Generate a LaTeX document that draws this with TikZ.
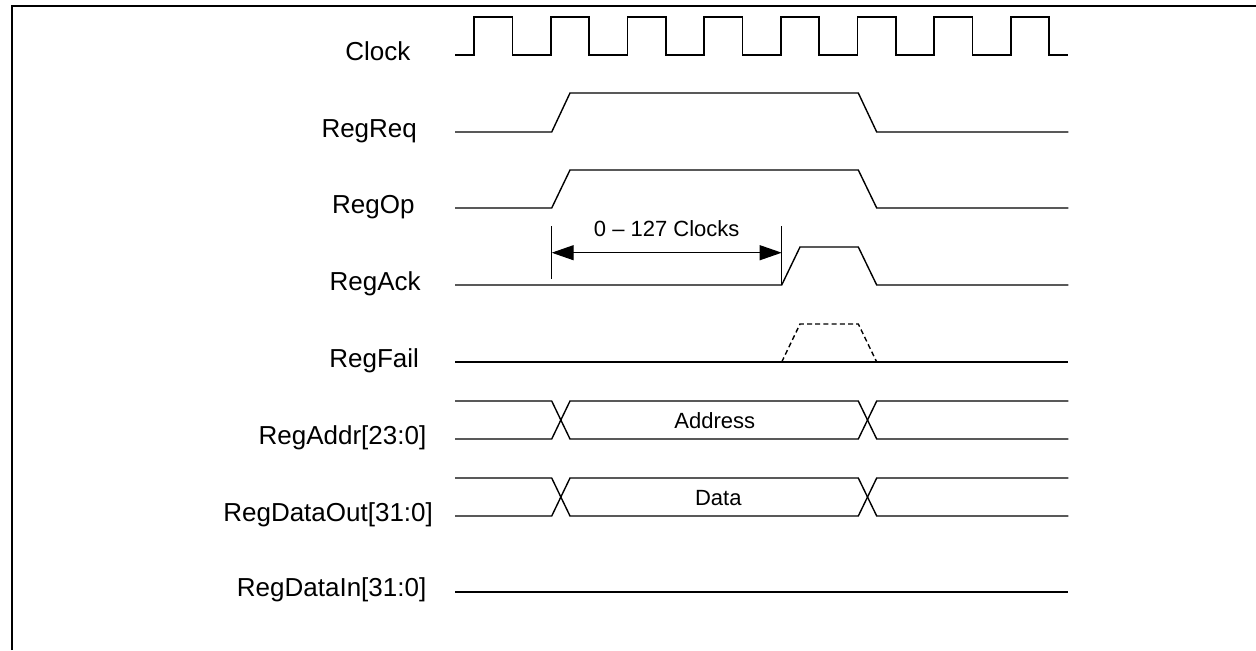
\documentclass[tikz,border=0pt]{standalone}
\usepackage{fontspec}
\setmainfont{Liberation Sans}
\usetikzlibrary{arrows.meta}
\tikzset{
  sig/.style={line width=0.7pt, line join=miter},
  lbl/.style={font=\fontsize{13}{15}\selectfont, anchor=base east, inner sep=0pt},
  small/.style={font=\fontsize{11}{13}\selectfont, anchor=base, inner sep=0pt},
  frame/.style={line width=1pt},
  dim/.style={line width=0.55pt},
}
\begin{document}
\begin{tikzpicture}[x=0.5pt, y=-0.5pt]
\useasboundingbox (0,0) rectangle (1256,650);
% frame
\draw[frame] (11.5,650) -- (11.5,5.7) -- (1256,5.7);
% labels
\node[lbl] (lclk) at (410.7,60) {Clock};
\node[lbl] (lreq) at (417.3,137.5) {RegReq};
\node[lbl] (lop) at (415,213) {RegOp};
\node[lbl] (lack) at (421,290) {RegAck};
\node[lbl] (lfail) at (419.3,367) {RegFail};
\node[lbl] (laddr) at (426.7,444) {RegAddr[23:0]};
\node[lbl] (ldout) at (433.3,521.5) {RegDataOut[31:0]};
\node[lbl] (ldin) at (426.7,596) {RegDataIn[31:0]};
% clock
\draw[sig] (455,55) foreach \k in {0,...,7} {
  -- ({474.17+76.667*\k},55) -- ({474.17+76.667*\k},17)
  -- ({512.5+76.667*\k},17) -- ({512.5+76.667*\k},55) } -- (1068.3,55);
% RegReq
\draw[sig] (455,132) -- (551.7,132) -- (570,93) -- (858.3,93) -- (876.7,132) -- (1068.3,132);
% RegOp
\draw[sig] (455,208) -- (551.7,208) -- (570,170) -- (858.3,170) -- (876.7,208) -- (1068.3,208);
% RegAck
\draw[sig] (455,285) -- (781.7,285) -- (800,247) -- (858.3,247) -- (876.7,285) -- (1068.3,285);
% RegFail
\draw[sig] (455,362) -- (1068.3,362);
\draw[sig, dash pattern=on 2.5pt off 1.6pt] (781.7,362) -- (800,324) -- (858.3,324) -- (876.7,362);
% RegAddr bus
\draw[sig] (455,401) -- (551.7,401) -- (570,439) -- (858.3,439) -- (876.7,401) -- (1068.3,401);
\draw[sig] (455,439) -- (551.7,439) -- (570,401) -- (858.3,401) -- (876.7,439) -- (1068.3,439);
\node[small] (taddr) at (714.8,428.3) {Address};
% RegDataOut bus
\draw[sig] (455,478) -- (551.7,478) -- (570,516) -- (858.3,516) -- (876.7,478) -- (1068.3,478);
\draw[sig] (455,516) -- (551.7,516) -- (570,478) -- (858.3,478) -- (876.7,516) -- (1068.3,516);
\node[small] (tdata) at (718.3,505) {Data};
% RegDataIn
\draw[sig] (455,592) -- (1068.3,592);
% dimension
\coordinate (dl) at (551.7,252.7);
\coordinate (dr) at (781.7,252.7);
\draw[dim] (551.7,226) -- (551.7,279);
\draw[dim] (781.7,226) -- (781.7,285);
\draw[dim, {Triangle[length=11pt,width=7.5pt]}-{Triangle[length=11pt,width=7.5pt]}] (dl) -- (dr);
\node[small] (tclk) at (666.7,236) {0 – 127 Clocks};
\end{tikzpicture}
\end{document}
